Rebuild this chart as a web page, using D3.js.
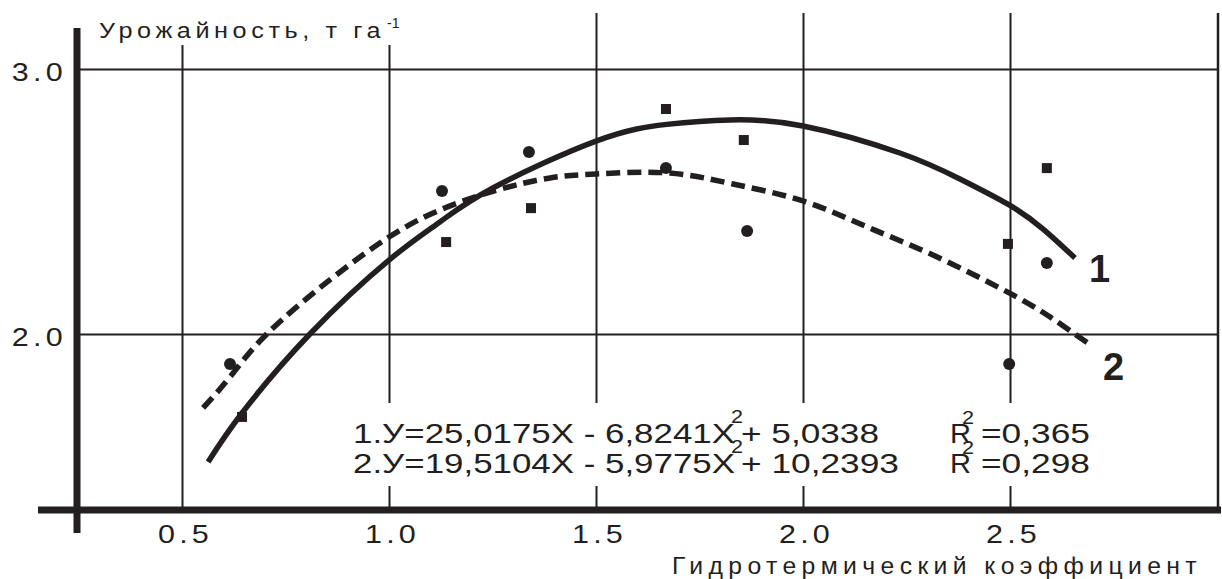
<!DOCTYPE html>
<html>
<head>
<meta charset="utf-8">
<script src="https://cdn.jsdelivr.net/npm/d3@7"></script>
<style>
  body { margin: 0; background: #fff; }
  svg { display: block; font-family: "Liberation Sans", Arial, sans-serif; }
</style>
</head>
<body>
<svg id="chart" width="1222" height="579"></svg>
<script>
// tick values
const xTicks = [0.5, 1.0, 1.5, 2.0, 2.5];
const yTicks = [2.0, 3.0];

// observed points, series 1 (squares)
const sqX = [0.645, 1.138, 1.343, 1.669, 1.857, 2.495, 2.589];
const sqY = [1.687, 2.347, 2.475, 2.849, 2.732, 2.340, 2.626];

// observed points, series 2 (circles)
const ciX = [0.616, 1.128, 1.338, 1.669, 1.865, 2.498, 2.589];
const ciY = [1.887, 2.540, 2.687, 2.626, 2.389, 1.887, 2.268];

// curve 1 (solid)
const c1X = [0.563, 0.645, 0.809, 1.000, 1.123, 1.251, 1.500, 1.671, 1.824, 2.000, 2.234, 2.379, 2.498, 2.580, 2.657];
const c1Y = [1.517, 1.702, 2.000, 2.279, 2.423, 2.551, 2.728, 2.791, 2.808, 2.785, 2.683, 2.585, 2.487, 2.396, 2.287];

// curve 2 (dashed)
const c2X = [0.551, 0.616, 0.705, 0.857, 1.000, 1.123, 1.261, 1.389, 1.500, 1.671, 1.831, 2.000, 2.155, 2.314, 2.498, 2.597, 2.688];
const c2Y = [1.721, 1.838, 2.000, 2.204, 2.366, 2.468, 2.543, 2.589, 2.604, 2.608, 2.566, 2.502, 2.404, 2.298, 2.155, 2.064, 1.966];

const eqMain = ["1.У=25,0175X - 6,8241X", "2.У=19,5104X - 5,9775X"];
const eqTail = ["+ 5,0338", "+ 10,2393"];
const r2 = ["=0,365", "=0,298"];

const ink = "#231f20";
const font = "Liberation Sans, Arial, sans-serif";
const svg = d3.select("#chart");

const x = d3.scaleLinear().domain([0.5, 2.5]).range([182, 1010]);
const y = d3.scaleLinear().domain([2.0, 3.0]).range([334, 69]);

// grid
const xGrid = svg.append("g")
    .attr("transform", "translate(0,510)")
    .call(d3.axisBottom(x).tickValues(xTicks).tickSize(-497).tickFormat(""));
xGrid.select(".domain").remove();
xGrid.selectAll("line").attr("stroke", ink).attr("stroke-width", 2);

const yGrid = svg.append("g")
    .attr("transform", "translate(80,0)")
    .call(d3.axisLeft(y).tickValues(yTicks).tickSize(-1138).tickFormat(""));
yGrid.select(".domain").remove();
yGrid.selectAll("line").attr("stroke", ink).attr("stroke-width", 2);

// right border
svg.append("line")
    .attr("x1", 1218).attr("x2", 1218).attr("y1", 13).attr("y2", 510)
    .attr("stroke", ink).attr("stroke-width", 2.5);

// white boxes behind titles / equations
svg.append("rect").attr("x", 88).attr("y", 0).attr("width", 320).attr("height", 45).attr("fill", "#fff");
svg.append("rect").attr("x", 340).attr("y", 403).attr("width", 760).attr("height", 83).attr("fill", "#fff");

// curves
const line = d3.line()
    .x(d => x(d[0]))
    .y(d => y(d[1]))
    .curve(d3.curveNatural);

svg.append("path")
    .datum(d3.zip(c1X, c1Y))
    .attr("fill", "none")
    .attr("stroke", ink)
    .attr("stroke-width", 5.5)
    .attr("d", line);

svg.append("path")
    .datum(d3.zip(c2X, c2Y))
    .attr("fill", "none")
    .attr("stroke", ink)
    .attr("stroke-width", 5.5)
    .attr("stroke-dasharray", "14 7")
    .attr("d", line);

// points
svg.selectAll(".sq")
    .data(d3.zip(sqX, sqY))
    .join("rect")
    .attr("x", d => x(d[0]) - 5)
    .attr("y", d => y(d[1]) - 5)
    .attr("width", 10)
    .attr("height", 10)
    .attr("fill", ink);

svg.selectAll(".ci")
    .data(d3.zip(ciX, ciY))
    .join("circle")
    .attr("cx", d => x(d[0]))
    .attr("cy", d => y(d[1]))
    .attr("r", 6)
    .attr("fill", ink);

// axes (thick)
svg.append("line")
    .attr("x1", 38).attr("x2", 1221).attr("y1", 510).attr("y2", 510)
    .attr("stroke", ink).attr("stroke-width", 7);
svg.append("line")
    .attr("x1", 77).attr("x2", 77).attr("y1", 28).attr("y2", 533)
    .attr("stroke", ink).attr("stroke-width", 7);

// tick labels
const xAxis = svg.append("g")
    .attr("transform", "translate(3,510)")
    .call(d3.axisBottom(x).tickValues(xTicks).tickSize(0).tickPadding(15).tickFormat(d3.format(".1f")));
xAxis.select(".domain").remove();
xAxis.selectAll("text")
    .attr("font-size", 25).attr("letter-spacing", 3.5).attr("fill", ink)
    .attr("font-family", font)
    .attr("transform", "scale(1.22,1)");

const yAxis = svg.append("g")
    .attr("transform", "translate(67,3)")
    .call(d3.axisLeft(y).tickValues(yTicks).tickSize(0).tickPadding(0).tickFormat(d3.format(".1f")));
yAxis.select(".domain").remove();
yAxis.selectAll("text")
    .attr("font-size", 25).attr("letter-spacing", 3.5).attr("fill", ink)
    .attr("font-family", font)
    .attr("transform", "scale(1.22,1)");

// axis titles
svg.append("text")
    .attr("x", 99).attr("y", 38)
    .attr("font-size", 22).attr("letter-spacing", 4).attr("fill", ink)
    .attr("textLength", 286).attr("lengthAdjust", "spacingAndGlyphs")
    .text("Урожайность, т га");
svg.append("text")
    .attr("x", 387).attr("y", 28)
    .attr("font-size", 14).attr("fill", ink)
    .text("-1");

svg.append("text")
    .attr("x", 672).attr("y", 574)
    .attr("font-size", 23).attr("letter-spacing", 5).attr("fill", ink)
    .attr("textLength", 530).attr("lengthAdjust", "spacingAndGlyphs")
    .text("Гидротермический коэффициент");

// equations
eqMain.forEach((txt, i) => {
  const base = 443 + i * 30;
  svg.append("text")
      .attr("x", 353).attr("y", base)
      .attr("font-size", 27).attr("fill", ink)
      .attr("textLength", 382).attr("lengthAdjust", "spacingAndGlyphs")
      .text(txt);
  svg.append("text")
      .attr("x", 731).attr("y", base - 20)
      .attr("font-size", 19).attr("fill", ink)
      .attr("textLength", 12).attr("lengthAdjust", "spacingAndGlyphs")
      .text("2");
  svg.append("text")
      .attr("x", 741).attr("y", base)
      .attr("font-size", 27).attr("fill", ink)
      .attr("textLength", i === 0 ? 138 : 158).attr("lengthAdjust", "spacingAndGlyphs")
      .text(eqTail[i]);

  svg.append("text")
      .attr("x", 950).attr("y", base)
      .attr("font-size", 27).attr("fill", ink)
      .attr("textLength", 21).attr("lengthAdjust", "spacingAndGlyphs")
      .text("R");
  svg.append("text")
      .attr("x", 962).attr("y", base - 19)
      .attr("font-size", 19).attr("fill", ink)
      .attr("textLength", 12).attr("lengthAdjust", "spacingAndGlyphs")
      .text("2");
  svg.append("text")
      .attr("x", 981).attr("y", base)
      .attr("font-size", 27).attr("fill", ink)
      .attr("textLength", 109).attr("lengthAdjust", "spacingAndGlyphs")
      .text(r2[i]);
});

// curve labels
svg.append("text").attr("x", 1089).attr("y", 282)
    .attr("font-size", 38).attr("font-weight", "bold").attr("fill", ink).text("1");
svg.append("text").attr("x", 1103).attr("y", 380)
    .attr("font-size", 38).attr("font-weight", "bold").attr("fill", ink).text("2");
</script>
</body>
</html>
